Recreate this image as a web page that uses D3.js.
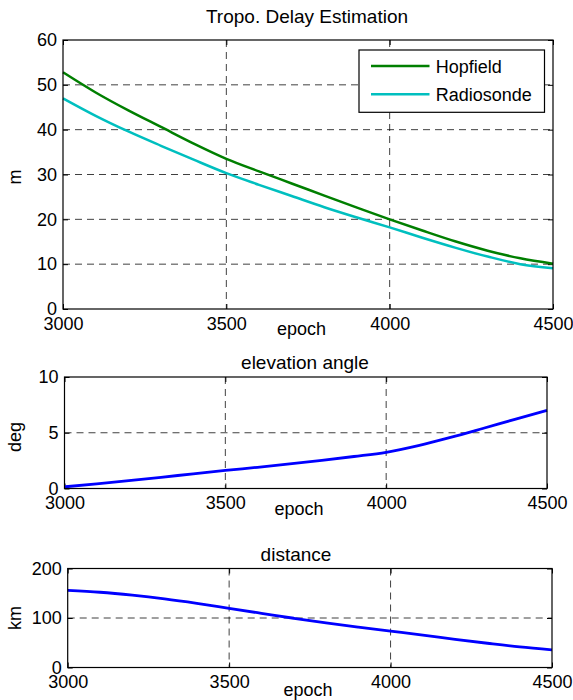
<!DOCTYPE html>
<html>
<head>
<meta charset="utf-8">
<script src="https://cdn.jsdelivr.net/npm/d3@7"></script>
<style>
  html, body { margin: 0; padding: 0; background: #fff; }
  svg { display: block; font-family: "Liberation Sans", Arial, Helvetica, sans-serif; }
</style>
</head>
<body>
<svg id="chart" width="573" height="700"></svg>
<script>
// ---- data ----
const epochs     = [3000, 3100, 3200, 3300, 3400, 3500, 3600, 3700, 3800, 3900, 4000, 4100, 4200, 4300, 4400, 4500];
const hopfield   = [52.8, 48.3, 44.3, 40.6, 36.9, 33.5, 30.7, 28.0, 25.3, 22.6, 20.0, 17.5, 15.1, 13.0, 11.3, 10.1];
const radiosonde = [47.0, 43.1, 39.6, 36.4, 33.3, 30.3, 27.7, 25.2, 22.7, 20.4, 18.2, 15.9, 13.7, 11.7, 10.0, 9.1];
const elevation  = [0.15, 0.42, 0.70, 1.00, 1.32, 1.62, 1.90, 2.20, 2.52, 2.87, 3.25, 3.85, 4.58, 5.38, 6.2, 7.0];
const distance   = [156, 152, 146, 138.5, 129.5, 119.5, 109.5, 99.5, 90, 81.5, 73.5, 65.5, 57, 49, 41.5, 35.5];

const xTicks   = [3000, 3500, 4000, 4500];
const yTicks1  = [0, 10, 20, 30, 40, 50, 60];
const yTicks2  = [0, 5, 10];
const yTicks3  = [0, 100, 200];
const titles   = ["Tropo. Delay Estimation", "elevation angle", "distance"];
const yLabels  = ["m", "deg", "km"];
const xLabel   = "epoch";
const seriesNames = ["Hopfield", "Radiosonde"];

// ---- layout ----
const FS = 18;
const layout = [
  {L: 63,   R: 553, T: 40,    B: 309,   titleX: 307, titleY: 23,    ylabY: 177, xlabX: 301.5, xlabY: 335},
  {L: 64.5, R: 547, T: 377,   B: 488.5, titleX: 305, titleY: 369,   ylabY: 437, xlabX: 299,   xlabY: 515},
  {L: 67.7, R: 552, T: 568.5, B: 667.5, titleX: 296, titleY: 560.5, ylabY: 618, xlabX: 308,   xlabY: 696}
];

const svg = d3.select("#chart");

function panel(i, yDomain, yTicks, series) {
  const p = layout[i];
  const x = d3.scaleLinear().domain([3000, 4500]).range([p.L, p.R]);
  const y = d3.scaleLinear().domain(yDomain).range([p.B, p.T]);
  const g = svg.append("g");

  // grid
  const dash = "7,5";
  g.append("g").selectAll("line").data(xTicks.filter(t => t > 3000 && t < 4500)).join("line")
    .attr("x1", d => x(d)).attr("x2", d => x(d)).attr("y1", p.T).attr("y2", p.B)
    .attr("stroke", "#000").attr("stroke-opacity", 0.75).attr("stroke-dasharray", dash).attr("stroke-width", 1);
  g.append("g").selectAll("line").data(yTicks.filter(t => t > yDomain[0] && t < yDomain[1])).join("line")
    .attr("y1", d => y(d)).attr("y2", d => y(d)).attr("x1", p.L).attr("x2", p.R)
    .attr("stroke", "#000").attr("stroke-opacity", 0.75).attr("stroke-dasharray", dash).attr("stroke-width", 1);

  // axes
  const styleAxis = (sel) => {
    sel.select(".domain").remove();
    sel.selectAll("line").attr("stroke", "#000");
    sel.selectAll("text").attr("font-size", FS).attr("fill", "#000").attr("font-family", null);
  };
  g.append("g").attr("transform", `translate(0,${p.B})`)
    .call(d3.axisBottom(x).tickValues(xTicks).tickFormat(d3.format("d")).tickSize(-5).tickPadding(8)).call(styleAxis);
  g.append("g").attr("transform", `translate(0,${p.T})`)
    .call(d3.axisTop(x).tickValues(xTicks).tickFormat("").tickSize(-5)).call(styleAxis);
  g.append("g").attr("transform", `translate(${p.L},0)`)
    .call(d3.axisLeft(y).tickValues(yTicks).tickFormat(d3.format("d")).tickSize(-5).tickPadding(6)).call(styleAxis);
  g.append("g").attr("transform", `translate(${p.R},0)`)
    .call(d3.axisRight(y).tickValues(yTicks).tickFormat("").tickSize(-5)).call(styleAxis);

  // lines
  const line = d3.line().x((d, k) => x(epochs[k])).y(d => y(d)).curve(d3.curveMonotoneX);
  series.forEach(s => {
    g.append("path").datum(s.values).attr("d", line)
      .attr("fill", "none").attr("stroke", s.color).attr("stroke-width", s.width);
  });

  // box
  g.append("rect").attr("x", p.L).attr("y", p.T).attr("width", p.R - p.L).attr("height", p.B - p.T)
    .attr("fill", "none").attr("stroke", "#000").attr("stroke-width", 1.2);

  // labels
  g.append("text").attr("x", p.titleX).attr("y", p.titleY).attr("text-anchor", "middle")
    .attr("font-size", FS + 1).text(titles[i]);
  g.append("text").attr("x", p.xlabX).attr("y", p.xlabY).attr("text-anchor", "middle")
    .attr("font-size", FS).text(xLabel);
  g.append("text").attr("transform", `translate(21,${p.ylabY}) rotate(-90)`).attr("text-anchor", "middle")
    .attr("font-size", FS).text(yLabels[i]);
  return {g, x, y};
}

panel(0, [0, 60], yTicks1, [
  {values: hopfield, color: "#007f00", width: 2.5},
  {values: radiosonde, color: "#00bfbf", width: 2.5}
]);
panel(1, [0, 10], yTicks2, [{values: elevation, color: "#0000ff", width: 2.8}]);
panel(2, [0, 200], yTicks3, [{values: distance, color: "#0000ff", width: 2.8}]);

// legend
const lg = svg.append("g");
lg.append("rect").attr("x", 359).attr("y", 50).attr("width", 185.5).attr("height", 62.3)
  .attr("fill", "#fff").attr("stroke", "#000").attr("stroke-width", 1.2);
const legColors = ["#007f00", "#00bfbf"];
seriesNames.forEach((n, k) => {
  const ly = 66 + k * 28.3;
  lg.append("line").attr("x1", 371).attr("x2", 429.5).attr("y1", ly).attr("y2", ly)
    .attr("stroke", legColors[k]).attr("stroke-width", 2.5);
  lg.append("text").attr("x", 435.7).attr("y", ly + 6.6).attr("font-size", FS).text(n);
});
</script>
</body>
</html>
